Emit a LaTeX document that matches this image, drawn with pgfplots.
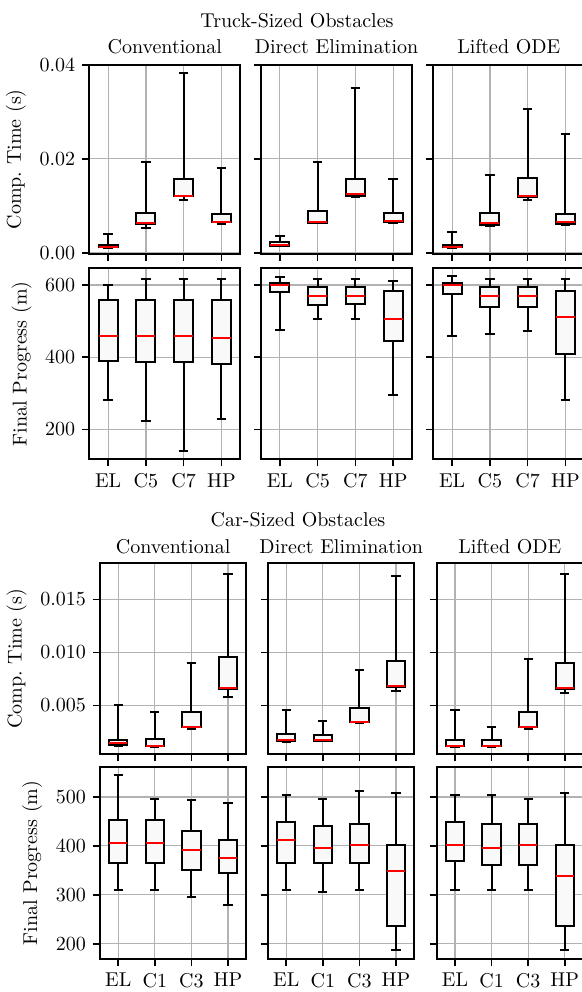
\documentclass[border=0pt]{standalone}
\usepackage{pgfplots}
\pgfplotsset{compat=1.18}
\usepgfplotslibrary{statistics}
\pgfplotsset{
  panel/.style={scale only axis, xmin=0.5, xmax=4.5, xtick={1,2,3,4},
    grid=major, major grid style={draw=gray!60, line width=0.6pt},
    axis line style={line width=1pt}, tick align=outside, tick pos=left,
    major tick length=3.5pt, tick style={black, line width=0.8pt},
    scaled y ticks=false, xticklabels={}, yticklabels={},
    boxplot/draw direction=y},
  topw/.style={width=75.5pt},
  botw/.style={width=73.15pt},
  bx/.style={draw=black, fill=gray!5, solid, line width=1pt,
    boxplot/box extend=0.5, boxplot/whisker extend=0.25,
    boxplot/every whisker/.style={draw=black, line width=1pt},
    boxplot/every box/.style={draw=black, fill=gray!5, line width=1pt},
    boxplot/every median/.style={draw=red, line width=1pt}},
}
\begin{document}
\begin{tikzpicture}
% ---------------- Truck-Sized: Comp. time (ms, labelled in s) ----------------
\node[anchor=base] at (148.5pt,-13.5pt) {Truck-Sized Obstacles};
\node[anchor=base] at (82.4pt,-26.5pt) {Conventional};
\node[anchor=base] at (168.25pt,-26.5pt) {Direct Elimination};
\node[anchor=base] at (254.4pt,-26.5pt) {Lifted ODE};
\begin{axis}[panel, topw, height=94.65pt, at={(44.65pt,-32.35pt)}, anchor=north west,
  ymin=-0.2, ymax=40, ytick={0,20,40}, yticklabels={0.00,0.02,0.04}, ylabel={Comp.\ Time (s)}]
\addplot[bx, boxplot prepared={draw position=1, lower whisker=1.0, lower quartile=1.2, median=1.3, upper quartile=1.8, upper whisker=4.0}] coordinates {};
\addplot[bx, boxplot prepared={draw position=2, lower whisker=5.4, lower quartile=6.1, median=6.3, upper quartile=8.6, upper whisker=19.4}] coordinates {};
\addplot[bx, boxplot prepared={draw position=3, lower whisker=11.3, lower quartile=12.1, median=12.2, upper quartile=15.8, upper whisker=38.2}] coordinates {};
\addplot[bx, boxplot prepared={draw position=4, lower whisker=6.2, lower quartile=6.5, median=6.7, upper quartile=8.4, upper whisker=18.0}] coordinates {};
\end{axis}
\begin{axis}[panel, topw, height=94.65pt, at={(130.5pt,-32.35pt)}, anchor=north west,
  ymin=-0.2, ymax=40, ytick={0,20,40}]
\addplot[bx, boxplot prepared={draw position=1, lower whisker=1.5, lower quartile=1.6, median=1.8, upper quartile=2.3, upper whisker=3.6}] coordinates {};
\addplot[bx, boxplot prepared={draw position=2, lower whisker=6.3, lower quartile=6.4, median=6.6, upper quartile=9.0, upper whisker=19.4}] coordinates {};
\addplot[bx, boxplot prepared={draw position=3, lower whisker=11.8, lower quartile=12.1, median=12.6, upper quartile=15.7, upper whisker=35.1}] coordinates {};
\addplot[bx, boxplot prepared={draw position=4, lower whisker=6.3, lower quartile=6.5, median=6.8, upper quartile=8.6, upper whisker=15.7}] coordinates {};
\end{axis}
\begin{axis}[panel, topw, height=94.65pt, at={(216.65pt,-32.35pt)}, anchor=north west,
  ymin=-0.2, ymax=40, ytick={0,20,40}]
\addplot[bx, boxplot prepared={draw position=1, lower whisker=1.1, lower quartile=1.2, median=1.3, upper quartile=1.8, upper whisker=4.5}] coordinates {};
\addplot[bx, boxplot prepared={draw position=2, lower whisker=5.8, lower quartile=5.9, median=6.3, upper quartile=8.6, upper whisker=16.6}] coordinates {};
\addplot[bx, boxplot prepared={draw position=3, lower whisker=11.3, lower quartile=12.0, median=12.2, upper quartile=15.9, upper whisker=30.6}] coordinates {};
\addplot[bx, boxplot prepared={draw position=4, lower whisker=5.9, lower quartile=6.2, median=6.6, upper quartile=8.4, upper whisker=25.2}] coordinates {};
\end{axis}
% ---------------- Truck-Sized: Final progress ----------------
\begin{axis}[panel, topw, height=95.5pt, at={(44.65pt,-134.15pt)}, anchor=north west,
  ymin=117, ymax=646, ytick={200,400,600}, yticklabels={200,400,600},
  xticklabels={EL,C5,C7,HP}, ylabel={Final Progress (m)}]
\addplot[bx, boxplot prepared={draw position=1, lower whisker=282, lower quartile=388, median=459, upper quartile=558, upper whisker=600}] coordinates {};
\addplot[bx, boxplot prepared={draw position=2, lower whisker=223, lower quartile=386, median=458, upper quartile=558, upper whisker=617}] coordinates {};
\addplot[bx, boxplot prepared={draw position=3, lower whisker=141, lower quartile=386, median=458, upper quartile=558, upper whisker=617}] coordinates {};
\addplot[bx, boxplot prepared={draw position=4, lower whisker=229, lower quartile=380, median=452, upper quartile=558, upper whisker=617}] coordinates {};
\end{axis}
\begin{axis}[panel, topw, height=95.5pt, at={(130.5pt,-134.15pt)}, anchor=north west,
  ymin=117, ymax=646, ytick={200,400,600}, xticklabels={EL,C5,C7,HP}]
\addplot[bx, boxplot prepared={draw position=1, lower whisker=476, lower quartile=581, median=600, upper quartile=605, upper whisker=622}] coordinates {};
\addplot[bx, boxplot prepared={draw position=2, lower whisker=506, lower quartile=545, median=570, upper quartile=594, upper whisker=617}] coordinates {};
\addplot[bx, boxplot prepared={draw position=3, lower whisker=506, lower quartile=546, median=570, upper quartile=594, upper whisker=617}] coordinates {};
\addplot[bx, boxplot prepared={draw position=4, lower whisker=294, lower quartile=446, median=505, upper quartile=583, upper whisker=612}] coordinates {};
\end{axis}
\begin{axis}[panel, topw, height=95.5pt, at={(216.65pt,-134.15pt)}, anchor=north west,
  ymin=117, ymax=646, ytick={200,400,600}, xticklabels={EL,C5,C7,HP}]
\addplot[bx, boxplot prepared={draw position=1, lower whisker=459, lower quartile=576, median=601, upper quartile=605, upper whisker=624}] coordinates {};
\addplot[bx, boxplot prepared={draw position=2, lower whisker=465, lower quartile=540, median=570, upper quartile=594, upper whisker=617}] coordinates {};
\addplot[bx, boxplot prepared={draw position=3, lower whisker=471, lower quartile=540, median=570, upper quartile=594, upper whisker=617}] coordinates {};
\addplot[bx, boxplot prepared={draw position=4, lower whisker=282, lower quartile=410, median=511, upper quartile=583, upper whisker=617}] coordinates {};
\end{axis}
% ---------------- Car-Sized: Comp. time (ms, labelled in s) ----------------
\node[anchor=base] at (149pt,-263pt) {Car-Sized Obstacles};
\node[anchor=base] at (86.6pt,-276.5pt) {Conventional};
\node[anchor=base] at (170.6pt,-276.5pt) {Direct Elimination};
\node[anchor=base] at (254.9pt,-276.5pt) {Lifted ODE};
\begin{axis}[panel, botw, height=95.5pt, at={(50pt,-281.65pt)}, anchor=north west,
  ymin=0.4, ymax=18.4, ytick={5,10,15}, yticklabels={0.005,0.010,0.015}, ylabel={Comp.\ Time (s)}]
\addplot[bx, boxplot prepared={draw position=1, lower whisker=1.16, lower quartile=1.28, median=1.44, upper quartile=1.79, upper whisker=5.00}] coordinates {};
\addplot[bx, boxplot prepared={draw position=2, lower whisker=1.10, lower quartile=1.15, median=1.16, upper quartile=1.80, upper whisker=4.37}] coordinates {};
\addplot[bx, boxplot prepared={draw position=3, lower whisker=2.79, lower quartile=2.95, median=2.96, upper quartile=4.37, upper whisker=8.96}] coordinates {};
\addplot[bx, boxplot prepared={draw position=4, lower whisker=5.81, lower quartile=6.60, median=6.61, upper quartile=9.59, upper whisker=17.39}] coordinates {};
\end{axis}
\begin{axis}[panel, botw, height=95.5pt, at={(134pt,-281.65pt)}, anchor=north west,
  ymin=0.4, ymax=18.4, ytick={5,10,15}]
\addplot[bx, boxplot prepared={draw position=1, lower whisker=1.57, lower quartile=1.70, median=1.79, upper quartile=2.36, upper whisker=4.56}] coordinates {};
\addplot[bx, boxplot prepared={draw position=2, lower whisker=1.62, lower quartile=1.68, median=1.79, upper quartile=2.20, upper whisker=3.58}] coordinates {};
\addplot[bx, boxplot prepared={draw position=3, lower whisker=3.39, lower quartile=3.40, median=3.41, upper quartile=4.75, upper whisker=8.36}] coordinates {};
\addplot[bx, boxplot prepared={draw position=4, lower whisker=6.38, lower quartile=6.76, median=6.80, upper quartile=9.18, upper whisker=17.20}] coordinates {};
\end{axis}
\begin{axis}[panel, botw, height=95.5pt, at={(218.35pt,-281.65pt)}, anchor=north west,
  ymin=0.4, ymax=18.4, ytick={5,10,15}]
\addplot[bx, boxplot prepared={draw position=1, lower whisker=1.12, lower quartile=1.16, median=1.18, upper quartile=1.79, upper whisker=4.56}] coordinates {};
\addplot[bx, boxplot prepared={draw position=2, lower whisker=1.12, lower quartile=1.16, median=1.17, upper quartile=1.79, upper whisker=2.98}] coordinates {};
\addplot[bx, boxplot prepared={draw position=3, lower whisker=2.76, lower quartile=2.98, median=3.00, upper quartile=4.40, upper whisker=9.40}] coordinates {};
\addplot[bx, boxplot prepared={draw position=4, lower whisker=6.19, lower quartile=6.60, median=6.62, upper quartile=8.96, upper whisker=17.39}] coordinates {};
\end{axis}
% ---------------- Car-Sized: Final progress ----------------
\begin{axis}[panel, botw, height=95.85pt, at={(50pt,-383.65pt)}, anchor=north west,
  ymin=168.7, ymax=560.7, ytick={200,300,400,500}, yticklabels={200,300,400,500},
  xticklabels={EL,C1,C3,HP}, ylabel={Final Progress (m)}]
\addplot[bx, boxplot prepared={draw position=1, lower whisker=310, lower quartile=366, median=405, upper quartile=453, upper whisker=544}] coordinates {};
\addplot[bx, boxplot prepared={draw position=2, lower whisker=310, lower quartile=366, median=405, upper quartile=453, upper whisker=496}] coordinates {};
\addplot[bx, boxplot prepared={draw position=3, lower whisker=296, lower quartile=351, median=392, upper quartile=431, upper whisker=493}] coordinates {};
\addplot[bx, boxplot prepared={draw position=4, lower whisker=279, lower quartile=344, median=375, upper quartile=413, upper whisker=488}] coordinates {};
\end{axis}
\begin{axis}[panel, botw, height=95.85pt, at={(134pt,-383.65pt)}, anchor=north west,
  ymin=168.7, ymax=560.7, ytick={200,300,400,500}, xticklabels={EL,C1,C3,HP}]
\addplot[bx, boxplot prepared={draw position=1, lower whisker=310, lower quartile=366, median=413, upper quartile=448, upper whisker=504}] coordinates {};
\addplot[bx, boxplot prepared={draw position=2, lower whisker=305, lower quartile=366, median=396, upper quartile=441, upper whisker=496}] coordinates {};
\addplot[bx, boxplot prepared={draw position=3, lower whisker=310, lower quartile=366, median=401, upper quartile=444, upper whisker=513}] coordinates {};
\addplot[bx, boxplot prepared={draw position=4, lower whisker=188, lower quartile=236, median=348, upper quartile=401, upper whisker=509}] coordinates {};
\end{axis}
\begin{axis}[panel, botw, height=95.85pt, at={(218.35pt,-383.65pt)}, anchor=north west,
  ymin=168.7, ymax=560.7, ytick={200,300,400,500}, xticklabels={EL,C1,C3,HP}]
\addplot[bx, boxplot prepared={draw position=1, lower whisker=310, lower quartile=369, median=401, upper quartile=448, upper whisker=504}] coordinates {};
\addplot[bx, boxplot prepared={draw position=2, lower whisker=310, lower quartile=361, median=396, upper quartile=444, upper whisker=504}] coordinates {};
\addplot[bx, boxplot prepared={draw position=3, lower whisker=310, lower quartile=361, median=401, upper quartile=444, upper whisker=496}] coordinates {};
\addplot[bx, boxplot prepared={draw position=4, lower whisker=188, lower quartile=236, median=339, upper quartile=401, upper whisker=509}] coordinates {};
\end{axis}
\pgfresetboundingbox
\useasboundingbox (0pt,0pt) rectangle (291pt,-496pt);
\end{tikzpicture}
\end{document}
